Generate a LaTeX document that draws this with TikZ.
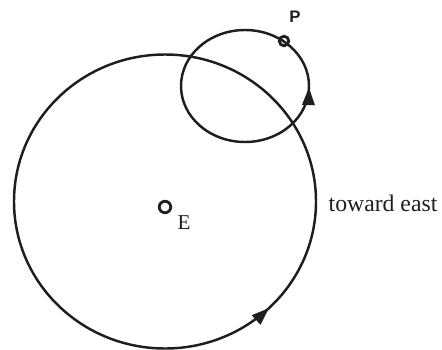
\documentclass[tikz,border=0pt]{standalone}
\usepackage{fontspec}
\setmainfont{Liberation Serif}
\newfontfamily\labelsans{Liberation Sans}
\usepackage{xcolor}
\usepackage{tikz}
\usetikzlibrary{arrows.meta,decorations.markings}
\definecolor{ink}{HTML}{1E1E1E}

\begin{document}
\begin{tikzpicture}[x=0.02cm,y=0.02cm,line width=1.4pt,draw=ink,
    orbit/.style={draw=ink},
    onward/.style={postaction={decorate,decoration={markings,
      mark=at position #1 with {\arrow{Triangle[length=10pt,width=7pt]}}}}},
    spot/.style={circle,draw=ink,line width=1.6pt,inner sep=0pt,minimum size=#1}]
  \useasboundingbox (0,0) rectangle (442,349);
  % large circle round the earth, small circle carrying P
  \draw[orbit,onward=0.872] (165,147.5) ellipse (151 and 147);
  \draw[orbit,onward=0.996] (245,263) ellipse (64 and 56);
  \node[spot=0.23cm] (earth) at (165,142) {};
  \node[spot=0.19cm] (planet) at (284,308) {};
  \node[font=\fontsize{12}{14}\selectfont,ink] (elabel) at (184,126) {E};
  \node[font=\labelsans\bfseries\fontsize{9.5}{11}\selectfont,ink] (plabel) at (295,332) {P};
  \node[font=\fontsize{13.5}{16}\selectfont,ink] (east) at (383,146) {toward east};
\end{tikzpicture}
\end{document}
